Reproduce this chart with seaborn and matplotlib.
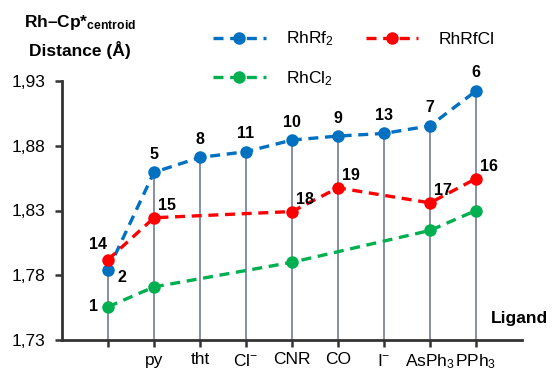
import matplotlib
matplotlib.use("Agg")
import matplotlib.pyplot as plt
import seaborn as sns
import pandas as pd
from matplotlib.ticker import FuncFormatter

categories = ["", "py", "tht", "Cl$^{-}$", "CNR", "CO", "I$^{-}$", "AsPh$_3$", "PPh$_3$"]

rf2_x = [0, 1, 2, 3, 4, 5, 6, 7, 8]
rf2_y = [1.784, 1.8595, 1.871, 1.8754, 1.8844, 1.8875, 1.8895, 1.8954, 1.9223]
rf2_lab = ["2", "5", "8", "11", "10", "9", "13", "7", "6"]

rfcl_x = [0, 1, 4, 5, 7, 8]
rfcl_y = [1.792, 1.8244, 1.8292, 1.8475, 1.8359, 1.8546]
rfcl_lab = ["14", "15", "18", "19", "17", "16"]

cl2_x = [0, 1, 4, 7, 8]
cl2_y = [1.7556, 1.771, 1.790, 1.8146, 1.830]
cl2_lab = ["1"]

yticks = [1.73, 1.78, 1.83, 1.88, 1.93]

sns.set_theme(style="white")
plt.rcParams["font.family"] = ["Liberation Sans", "DejaVu Sans"]
plt.rcParams["mathtext.fontset"] = "custom"
plt.rcParams["mathtext.rm"] = "Liberation Sans"
plt.rcParams["mathtext.bf"] = "Liberation Sans:bold"
plt.rcParams["mathtext.it"] = "Liberation Sans:italic"
plt.rcParams["text.color"] = "black"
plt.rcParams["xtick.color"] = "black"
plt.rcParams["ytick.color"] = "black"

fig = plt.figure(figsize=(5.53, 3.72), dpi=100)
ax = fig.add_axes([62 / 553, 1 - 340 / 372, (522 - 62) / 553, (340 - 81) / 372])

BLUE = "#0070c0"
RED = "#ff0000"
GREEN = "#00b050"

ax.vlines(rf2_x, 1.73, rf2_y, color="#7d8698", lw=1.3, zorder=1)

for xs, ys, col, name in [(rf2_x, rf2_y, BLUE, "RhRf$_2$"),
                          (cl2_x, cl2_y, GREEN, "RhCl$_2$"),
                          (rfcl_x, rfcl_y, RED, "RhRfCl")]:
    df = pd.DataFrame({"x": xs, "y": ys})
    sns.lineplot(data=df, x="x", y="y", ax=ax, color=col, marker="o",
                 markersize=9, markeredgewidth=0, lw=2.4, label=name,
                 zorder=3, estimator=None, sort=False)
for l in ax.get_lines():
    l.set_linestyle((0, (3, 2)))

fs = 11.5
for i, (x, y, t) in enumerate(zip(rf2_x, rf2_y, rf2_lab)):
    if i == 0:
        ax.annotate(t, (x, y), xytext=(14, -7), textcoords="offset pixels",
                    ha="center", va="center", fontsize=fs, fontweight="bold", annotation_clip=False)
    else:
        ax.annotate(t, (x, y), xytext=(0, 18), textcoords="offset pixels",
                    ha="center", va="center", fontsize=fs, fontweight="bold", annotation_clip=False)
for i, (x, y, t) in enumerate(zip(rfcl_x, rfcl_y, rfcl_lab)):
    if i == 0:
        ax.annotate(t, (x, y), xytext=(-10, 15), textcoords="offset pixels",
                    ha="center", va="center", fontsize=fs, fontweight="bold", annotation_clip=False)
    else:
        ax.annotate(t, (x, y), xytext=(13, 12), textcoords="offset pixels",
                    ha="center", va="center", fontsize=fs, fontweight="bold", annotation_clip=False)
ax.annotate(cl2_lab[0], (cl2_x[0], cl2_y[0]), xytext=(-15, 0), textcoords="offset pixels",
            ha="center", va="center", fontsize=fs, fontweight="bold", annotation_clip=False)

ax.set_xlim(-1, 9)
ax.set_ylim(1.73, 1.93)
ax.set_xticks(range(len(categories)))
ax.set_xticklabels(categories, fontsize=12.5)
ax.set_yticks(yticks)
ax.yaxis.set_major_formatter(FuncFormatter(lambda v, p: f"{v:.2f}".replace(".", ",")))
ax.tick_params(axis="y", labelsize=12.5, length=5, width=1.8, color="#333333", pad=7, left=True)
ax.tick_params(axis="x", length=5, width=1.8, color="#333333", pad=4, bottom=True)
ax.set_xlabel("")
ax.set_ylabel("")
for s in ["top", "right"]:
    ax.spines[s].set_visible(False)
for s in ["left", "bottom"]:
    ax.spines[s].set_color("#333333")
    ax.spines[s].set_linewidth(2)

handles, labels = ax.get_legend_handles_labels()
leg = fig.legend(handles, labels, ncol=2, loc="upper left",
                 bbox_to_anchor=(197 / 553, 1 - 14 / 372), frameon=False,
                 fontsize=12.5, handlelength=3.05, columnspacing=1.85,
                 labelspacing=1.2, handletextpad=1.15)
ax.get_legend().remove()

fig.text(80 / 553, 1 - 22 / 372, r"Rh–Cp*$_{\mathbf{centroid}}$", ha="center", va="center",
         fontsize=12.5, fontweight="bold")
fig.text(80 / 553, 1 - 50 / 372, "Distance (Å)", ha="center", va="center",
         fontsize=12.5, fontweight="bold")
fig.text(548 / 553, 1 - 318 / 372, "Ligand", ha="right", va="center",
         fontsize=12.5, fontweight="bold")

fig.savefig("out.png", dpi=100)
